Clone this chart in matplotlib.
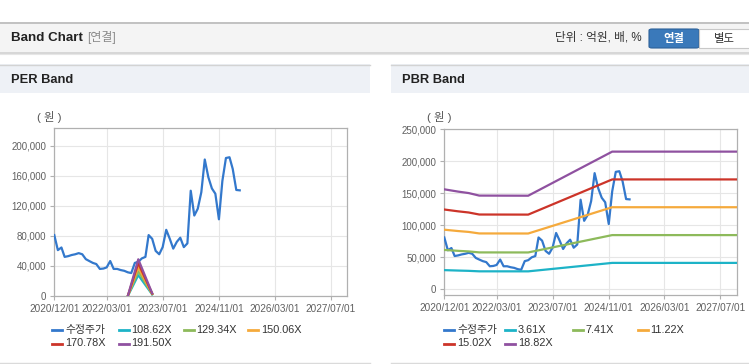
import numpy as np
import pandas as pd
import matplotlib
matplotlib.use('Agg')
import matplotlib.pyplot as plt
from matplotlib.patches import Rectangle, FancyBboxPatch
from matplotlib.lines import Line2D

plt.rcParams['font.family'] = ['Liberation Sans', 'Noto Sans CJK KR', 'DejaVu Sans']

W, H = 749, 364

# adjusted close price, monthly from 2020/12
price_dates = pd.date_range('2020-12-01', periods=54, freq='MS')
price = [81000, 61000, 64500, 52000, 53000, 54500, 55500, 57000, 55500, 49000,
         46500, 44000, 42500, 36000, 36500, 38000, 46500, 36000, 36000, 34500,
         33500, 31500, 30500, 44000, 45500, 50000, 52000, 81000, 76000, 60000,
         55500, 65000, 88000, 76000, 63000, 72000, 77500, 65000, 70000, 140000,
         107000, 116000, 138000, 181500, 158000, 143000, 136000, 102000, 153000, 183500,
         184500, 169000, 141000, 140500]

# PER band base (EPS)
eps_dates = pd.to_datetime(['2022-09-01', '2022-12-01', '2023-04-01'])
eps = [0, 255, 19]
per_multiples = [108.62, 129.34, 150.06, 170.78, 191.50]

# PBR band base (BPS)
bps_dates = pd.to_datetime(['2020-12-01', '2021-04-01', '2021-07-01', '2021-10-01',
                            '2022-12-01', '2024-12-01', '2027-11-22'])
bps = [8300, 8110, 7990, 7780, 7770, 11430, 11430]
pbr_multiples = [3.61, 7.41, 11.22, 15.02, 18.82]

band_colors = ['#1db3c7', '#8dba5b', '#f5aa3c', '#cc3429', '#8f51a0']
price_color = '#3378cc'

tick_dates = pd.to_datetime(['2020-12-01', '2022-03-01', '2023-07-01',
                             '2024-11-01', '2026-03-01', '2027-07-01'])
tick_labels = [d.strftime('%Y/%m/%d') for d in tick_dates]
x_start, x_end = pd.Timestamp('2020-12-01'), pd.Timestamp('2027-11-22')

per_yticks = [0, 40000, 80000, 120000, 160000, 200000]
pbr_yticks = [0, 50000, 100000, 150000, 200000, 250000]


def fx(x):
    return x / W


def fy(y):
    return 1 - y / H


fig = plt.figure(figsize=(W / 100, H / 100), dpi=100)
fig.patch.set_facecolor('white')


def rect(x0, y0, x1, y1, **kw):
    fig.add_artist(Rectangle((fx(x0), fy(y1)), (x1 - x0) / W, (y1 - y0) / H,
                             transform=fig.transFigure, **kw))


def hline(x0, x1, y, color, lw=0.72):
    fig.add_artist(Line2D([fx(x0), fx(x1)], [fy(y), fy(y)],
                          transform=fig.transFigure, color=color, lw=lw))


# header bar
rect(0, 22, W, 52, facecolor='#f4f4f4', edgecolor='none')
hline(0, W, 22.5, '#b8b8b8', 1.2)
hline(0, W, 52.5, '#cfcfcf', 1.2)
hline(0, W, 53.5, '#e6e6e6', 0.8)
fig.text(fx(11), fy(38), 'Band Chart', fontsize=9.6, fontweight='bold',
         color='#222222', va='center')
fig.text(fx(87), fy(38), '[연결]', fontsize=8.6, color='#8a8a8a', va='center')
fig.text(fx(642), fy(38), '단위 : 억원, 배, %', fontsize=8.4, color='#333333',
         va='center', ha='right')
fig.add_artist(FancyBboxPatch((fx(649), fy(48)), 50 / W, 19 / H,
                              boxstyle='round,pad=0,rounding_size=0.004',
                              transform=fig.transFigure, facecolor='#3a79ba',
                              edgecolor='#2d6199', lw=0.8))
fig.text(fx(674), fy(38.5), '연결', fontsize=8.2, fontweight='bold',
         color='white', va='center', ha='center')
rect(699, 29, 752, 48, facecolor='white', edgecolor='#c8c8c8', lw=0.8)
fig.text(fx(724), fy(38.5), '별도', fontsize=8.2, color='#333333',
         va='center', ha='center')

# panel title bars
for x0, x1, title in [(0, 370, 'PER Band'), (391, W, 'PBR Band')]:
    rect(x0, 64, x1, 93, facecolor='#eef1f6', edgecolor='none')
    hline(x0, x1, 64.5, '#d3d3d3', 1.0)
    hline(x0, x1, 362.5, '#dadada', 1.0)
    fig.text(fx(x0 + 11), fy(80), title, fontsize=9.3, fontweight='bold',
             color='#222222', va='center')


def setup(ax, ylim, yticks):
    ax.set_xlim(x_start, x_end)
    ax.set_ylim(*ylim)
    ax.set_xticks(tick_dates)
    ax.set_xticklabels(tick_labels, fontsize=7.2)
    ax.set_yticks(yticks)
    ax.set_yticklabels([f'{v:,}' for v in yticks], fontsize=7.0)
    ax.grid(color='#e6e6e6', lw=0.8)
    ax.set_axisbelow(True)
    for s in ax.spines.values():
        s.set_color('#b0b0b0')
        s.set_linewidth(0.9)
    ax.tick_params(colors='#b0b0b0', labelcolor='#606060',
                   length=3, width=0.8, pad=3)


def legend(xs_row1, xs_row2, names, colors):
    xs = xs_row1 + xs_row2
    ys = [330] * len(xs_row1) + [343.5] * len(xs_row2)
    for x, y, name, c in zip(xs, ys, names, colors):
        fig.add_artist(Line2D([fx(x - 13), fx(x - 3)], [fy(y), fy(y)],
                              transform=fig.transFigure, color=c, lw=2))
        fig.text(fx(x), fy(y), name, fontsize=7.8, color='#333333', va='center')


# PER band
ax1 = fig.add_axes([fx(54.3), fy(296), 293 / W, 167.7 / H])
setup(ax1, (0, 223000), per_yticks)
ax1.plot(price_dates, price, color=price_color, lw=1.6, zorder=3)
for m, c in zip(per_multiples, band_colors):
    ax1.plot(eps_dates, np.array(eps) * m, color=c, lw=1.6, zorder=3)
fig.text(fx(49), fy(117), '( 원 )', fontsize=8.2, color='#555555',
         va='center', ha='center')

# PBR band
ax2 = fig.add_axes([fx(444.3), fy(295), 292.7 / W, 165.7 / H])
setup(ax2, (-8900, 250000), pbr_yticks)
ax2.plot(price_dates, price, color=price_color, lw=1.6, zorder=3)
for m, c in zip(pbr_multiples, band_colors):
    ax2.plot(bps_dates, np.array(bps) * m, color=c, lw=1.6, zorder=3)
fig.text(fx(439), fy(117), '( 원 )', fontsize=8.2, color='#555555',
         va='center', ha='center')

colors = [price_color] + band_colors
legend([65, 131.5, 196.5, 261], [65, 131.5],
       ['수정주가'] + [f'{m:.2f}X' for m in per_multiples], colors)
legend([457, 518, 586, 650.5], [457, 518],
       ['수정주가'] + [f'{m:.2f}X' for m in pbr_multiples], colors)

fig.savefig('out.png', dpi=100)
